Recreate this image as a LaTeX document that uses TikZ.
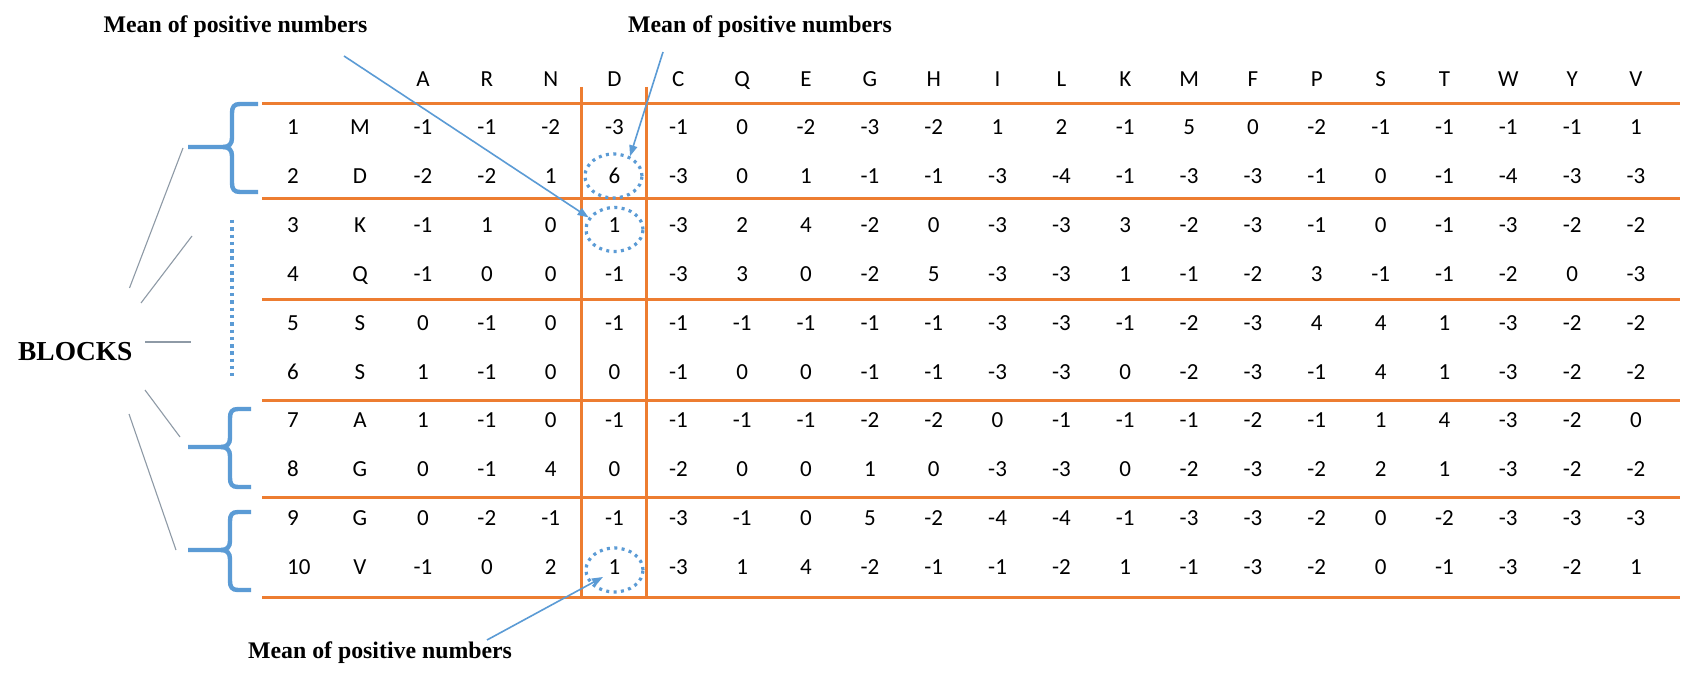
\documentclass[tikz,border=0pt]{standalone}
\usepackage{fontspec}
\setmainfont{Liberation Serif}
\newfontfamily\calibfont{Carlito}
\usetikzlibrary{arrows.meta,shapes.geometric}
\definecolor{orng}{HTML}{ED7D31}
\definecolor{blu}{HTML}{5B9BD5}
\definecolor{thingray}{HTML}{8E9AA6}
\tikzset{
  cell/.style={inner sep=0pt, anchor=base, font=\calibfont\fontsize{23}{27}\selectfont, text=black},
  lab/.style={inner sep=0pt, anchor=base west, font=\fontsize{23.8}{28}\selectfont\bfseries, text=black},
  orule/.style={draw=orng, line width=3pt},
  bracestyle/.style={draw=blu, line width=4.4pt},
  dotell/.style={ellipse, draw=blu, line width=3.2pt, dash pattern=on 3pt off 4.4pt, minimum width=57pt, minimum height=44pt, inner sep=0pt},
  arr/.style={draw=blu, line width=1.6pt, -{Triangle[length=11pt,width=8pt]}},
  conn/.style={draw=thingray, line width=1.1pt}
}
\newcommand{\drawbrace}[6]{%
  \draw[bracestyle] (#1,#4) -- (#2+8,#4) .. controls (#2+2,#4) and (#2,#4+3) .. (#2,#4+9) -- (#2,#5-9) .. controls (#2,#5-3) and (#2-3,#5) .. (#2-9,#5) -- (#3,#5);
  \draw[bracestyle] (#2-9,#5) .. controls (#2-3,#5) and (#2,#5+3) .. (#2,#5+9) -- (#2,#6-9) .. controls (#2,#6-3) and (#2+2,#6) .. (#2+8,#6) -- (#1,#6);
}
\begin{document}
\begin{tikzpicture}[x=1pt,y=-1pt]
\useasboundingbox (0,0) rectangle (1684,679);
\fill[white] (0,0) rectangle (1684,679);

% header
\foreach \h [count=\c] in {A,R,N,D,C,Q,E,G,H,I,L,K,M,F,P,S,T,W,Y,V}
  \node[cell] (h\c) at ({423+63.84*(\c-1)},86.5) {\h};

% table rows
\foreach \r/\lab/\vals in {
  1/M/{-1,-1,-2,-3,-1,0,-2,-3,-2,1,2,-1,5,0,-2,-1,-1,-1,-1,1},
  2/D/{-2,-2,1,6,-3,0,1,-1,-1,-3,-4,-1,-3,-3,-1,0,-1,-4,-3,-3},
  3/K/{-1,1,0,1,-3,2,4,-2,0,-3,-3,3,-2,-3,-1,0,-1,-3,-2,-2},
  4/Q/{-1,0,0,-1,-3,3,0,-2,5,-3,-3,1,-1,-2,3,-1,-1,-2,0,-3},
  5/S/{0,-1,0,-1,-1,-1,-1,-1,-1,-3,-3,-1,-2,-3,4,4,1,-3,-2,-2},
  6/S/{1,-1,0,0,-1,0,0,-1,-1,-3,-3,0,-2,-3,-1,4,1,-3,-2,-2},
  7/A/{1,-1,0,-1,-1,-1,-1,-2,-2,0,-1,-1,-1,-2,-1,1,4,-3,-2,0},
  8/G/{0,-1,4,0,-2,0,0,1,0,-3,-3,0,-2,-3,-2,2,1,-3,-2,-2},
  9/G/{0,-2,-1,-1,-3,-1,0,5,-2,-4,-4,-1,-3,-3,-2,0,-2,-3,-3,-3},
  10/V/{-1,0,2,1,-3,1,4,-2,-1,-1,-2,1,-1,-3,-2,0,-1,-3,-2,1}} {
  \node[cell, anchor=base west] (rn\r) at (287,{135+48.8*(\r-1)}) {\r};
  \node[cell] (rl\r) at (360,{135+48.8*(\r-1)}) {\lab};
  \foreach \v [count=\c] in \vals
    \node[cell] (v\r-\c) at ({423+63.84*(\c-1)},{135+48.8*(\r-1)}) {\v};
}

% orange rules
\foreach \yy in {104,199,299,400,497,597}
  \draw[orule] (262,\yy) -- (1680,\yy);
\draw[orule] (581.5,87) -- (581.5,597);
\draw[orule] (646.5,87) -- (646.5,597);

% braces and dotted bar
\drawbrace{258}{232}{188}{104}{147}{192}
\drawbrace{251}{230}{188}{409}{447}{487}
\drawbrace{251}{230}{188}{512}{550}{590}
\draw[draw=blu, line width=4.2pt, dash pattern=on 3.4pt off 3.9pt] (232,220) -- (232,376);

% dotted ellipses
\node[dotell] (c6) at (613.5,176) {};
\node[dotell] (c1a) at (614.5,229.5) {};
\node[dotell] (c1b) at (614.5,570) {};

% labels
\node[lab] (L1) at (103.5,33) {Mean of positive numbers};
\node[lab] (L2) at (628,33) {Mean of positive numbers};
\node[lab] (L3) at (248,658) {Mean of positive numbers};
\node[lab, font=\fontsize{27.4}{32}\selectfont\bfseries] (blocks) at (18,360) {BLOCKS};

% arrows
\coordinate (a1s) at (344,56);
\coordinate (a2s) at (663,52);
\coordinate (a3s) at (487,640);
\coordinate (a3e) at (603,577);
\draw[arr] (a1s) -- (c1a.155);
\draw[arr] (a2s) -- (c6.50);
\draw[arr] (a3s) -- (a3e);

% thin connectors from BLOCKS
\coordinate (k1a) at (129.5,288); \coordinate (k1b) at (183,148);
\coordinate (k2a) at (141,303);   \coordinate (k2b) at (192,236);
\coordinate (k3a) at (145,342);   \coordinate (k3b) at (191,342);
\coordinate (k4a) at (145,390);   \coordinate (k4b) at (180,437);
\coordinate (k5a) at (129,414);   \coordinate (k5b) at (176,550);
\draw[conn] (k1a) -- (k1b);
\draw[conn] (k2a) -- (k2b);
\draw[conn] (k3a) -- (k3b);
\draw[conn] (k4a) -- (k4b);
\draw[conn] (k5a) -- (k5b);
\end{tikzpicture}
\end{document}
